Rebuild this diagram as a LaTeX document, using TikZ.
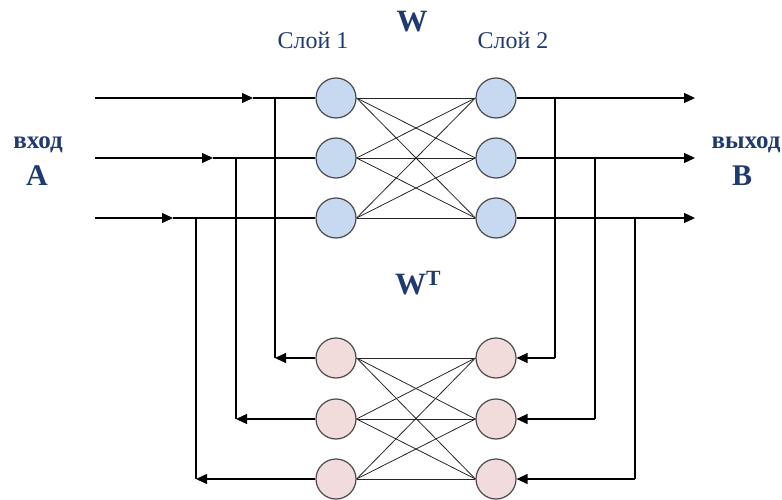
\documentclass[tikz,border=0pt]{standalone}
\usepackage{fontspec}
\setmainfont{Liberation Serif}
\usetikzlibrary{arrows.meta}
\definecolor{navy}{HTML}{1F3A6E}
\definecolor{topfill}{HTML}{C6D9F1}
\definecolor{botfill}{HTML}{F2DCDB}
\definecolor{ring}{HTML}{4A4A4A}
\begin{document}
\begin{tikzpicture}[x=1pt,y=-1pt,
  neuron/.style={circle,draw=ring,line width=1.2pt,minimum size=40pt,inner sep=0pt},
  up/.style={neuron,fill=topfill},
  dn/.style={neuron,fill=botfill},
  wire/.style={line width=1.3pt,black},
  arr/.style={wire,-{Triangle[length=11pt,width=10pt]}},
  link/.style={line width=0.8pt,black!85},
  lbl/.style={text=navy,inner sep=0pt},
]
\useasboundingbox (0,0) rectangle (782,500);
% neurons
\foreach \i/\y in {1/98,2/158,3/218}{
  \node[up] (a\i) at (336,\y) {};
  \node[up] (b\i) at (496,\y) {};
}
\foreach \i/\y in {1/358,2/419,3/479}{
  \node[dn] (c\i) at (336,\y) {};
  \node[dn] (d\i) at (496,\y) {};
}
% full connections
\foreach \i in {1,2,3}{\foreach \j in {1,2,3}{
  \draw[link] (a\i.east) -- (b\j.west);
  \draw[link] (c\i.east) -- (d\j.west);
}}
% inputs
\coordinate (s1) at (95,98);  \coordinate (t1) at (253,98);  \coordinate (v1) at (275,98);
\coordinate (s2) at (95,158); \coordinate (t2) at (213,158); \coordinate (v2) at (236,158);
\coordinate (s3) at (95,218); \coordinate (t3) at (173,218); \coordinate (v3) at (196,218);
\coordinate (w1) at (275,358); \coordinate (w2) at (236,419); \coordinate (w3) at (196,479);
\foreach \i in {1,2,3}{
  \draw[arr] (s\i) -- (t\i);
  \draw[wire] (t\i) -- (a\i.west);
  \draw[wire] (v\i) -- (w\i);
  \draw[arr] (c\i.west) -- (w\i);
}
% outputs
\coordinate (o1) at (695,98);  \coordinate (p1) at (555,98);  \coordinate (q1) at (555,358);
\coordinate (o2) at (695,158); \coordinate (p2) at (595,158); \coordinate (q2) at (595,419);
\coordinate (o3) at (695,218); \coordinate (p3) at (635,218); \coordinate (q3) at (635,479);
\foreach \i in {1,2,3}{
  \draw[arr] (b\i.east) -- (o\i);
  \draw[wire] (p\i) -- (q\i);
  \draw[arr] (q\i) -- (d\i.east);
}
% labels
\node[lbl,font=\fontsize{24}{24}\selectfont] (l1) at (313,40) {Слой 1};
\node[lbl,font=\fontsize{24}{24}\selectfont] (l2) at (513,40) {Слой 2};
\node[lbl,font=\fontsize{31}{31}\selectfont\bfseries] (w) at (412,22) {W};
\node[lbl,font=\fontsize{31}{31}\selectfont\bfseries] (wt) at (418,283) {W\textsuperscript{T}};
\node[lbl,font=\fontsize{25}{25}\selectfont\bfseries] (inl) at (38,145) {вход};
\node[lbl,font=\fontsize{30}{30}\selectfont\bfseries] (A) at (37,176) {A};
\node[lbl,font=\fontsize{25}{25}\selectfont\bfseries] (outl) at (746,145) {выход};
\node[lbl,font=\fontsize{30}{30}\selectfont\bfseries] (B) at (742,176) {B};
\end{tikzpicture}
\end{document}
